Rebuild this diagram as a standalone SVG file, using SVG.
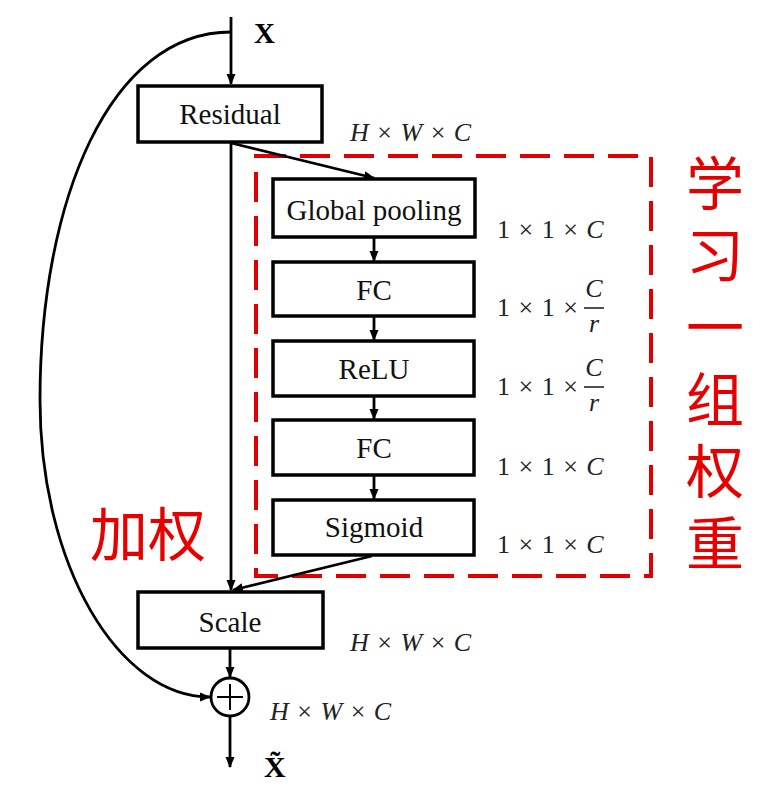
<svg xmlns="http://www.w3.org/2000/svg" width="772" height="791" viewBox="0 0 772 791">
<style>
.box{fill:#fff;stroke:#000;stroke-width:3.5}
.ln{fill:none;stroke:#000;stroke-width:2.8}
.bt{font-family:"Liberation Serif",serif;font-size:29px;text-anchor:middle;fill:#111}
.mt{font-family:"Liberation Serif",serif;font-size:26px;fill:#222;word-spacing:2px}
.it{font-style:italic}
.cn{font-family:"Noto Sans CJK SC",sans-serif;font-size:58px;fill:#e60000}
</style>
<defs>
<marker id="ah" markerWidth="11" markerHeight="10" refX="10" refY="5" orient="auto" markerUnits="userSpaceOnUse">
<path d="M0,0.5 L11,5 L0,9.5 Z" fill="#000"/>
</marker>
</defs>
<rect x="256" y="156" width="395" height="420" fill="none" stroke="#e00000" stroke-width="4" stroke-dasharray="30 14"/>
<g id="connectors">
<path class="ln" d="M231,17 V84" marker-end="url(#ah)"/>
<path class="ln" d="M231,143 V590" marker-end="url(#ah)"/>
<path class="ln" d="M231,143 L374,178" marker-end="url(#ah)"/>
<path class="ln" d="M374,238 V261" marker-end="url(#ah)"/>
<path class="ln" d="M374,317 V340" marker-end="url(#ah)"/>
<path class="ln" d="M374,396 V419" marker-end="url(#ah)"/>
<path class="ln" d="M374,476 V499" marker-end="url(#ah)"/>
<path class="ln" d="M372,556 L233,590" marker-end="url(#ah)"/>
<path class="ln" d="M230,648 V677" marker-end="url(#ah)"/>
<path class="ln" d="M230,716 V767" marker-end="url(#ah)"/>
<path class="ln" d="M231,32 C110,32 40,200 40,400 C40,565 118,697 210,697" marker-end="url(#ah)"/>
</g>
<g id="residual"><rect class="box" x="138" y="86" width="184" height="56"/><text class="bt" x="230" y="124">Residual</text></g>
<g id="global-pooling"><rect class="box" x="273" y="179" width="202" height="58"/><text class="bt" x="374" y="220">Global pooling</text></g>
<g id="fc1"><rect class="box" x="273" y="262" width="201" height="54"/><text class="bt" x="374" y="300">FC</text></g>
<g id="relu"><rect class="box" x="273" y="341" width="201" height="55"/><text class="bt" x="374" y="379">ReLU</text></g>
<g id="fc2"><rect class="box" x="273" y="420" width="201" height="55"/><text class="bt" x="374" y="458">FC</text></g>
<g id="sigmoid"><rect class="box" x="273" y="500" width="201" height="55"/><text class="bt" x="374" y="537">Sigmoid</text></g>
<g id="scale"><rect class="box" x="138" y="592" width="185" height="56"/><text class="bt" x="230" y="632">Scale</text></g>
<g id="sum"><circle cx="230" cy="697" r="19" fill="#fff" stroke="#000" stroke-width="2.8"/><path d="M217,697 H243 M230,684 V710" stroke="#000" stroke-width="2"/></g>
<text x="254" y="43" font-family="Liberation Serif,serif" font-size="29" font-weight="bold">X</text>
<text x="264" y="777" font-family="Liberation Serif,serif" font-size="30" font-weight="bold">X̃</text>
<text class="mt" x="350" y="141"><tspan class="it">H</tspan> × <tspan class="it">W</tspan> × <tspan class="it">C</tspan></text>
<text class="mt" x="350" y="651"><tspan class="it">H</tspan> × <tspan class="it">W</tspan> × <tspan class="it">C</tspan></text>
<text class="mt" x="270" y="720"><tspan class="it">H</tspan> × <tspan class="it">W</tspan> × <tspan class="it">C</tspan></text>
<text class="mt" x="497" y="238">1 × 1 × <tspan class="it">C</tspan></text>
<text class="mt" x="497" y="316">1 × 1 ×</text>
<text class="mt it" x="594" y="297" text-anchor="middle">C</text>
<line x1="584" y1="308" x2="604" y2="308" stroke="#222" stroke-width="1.6"/>
<text class="mt it" x="594" y="332" text-anchor="middle">r</text>
<text class="mt" x="497" y="395">1 × 1 ×</text>
<text class="mt it" x="594" y="376" text-anchor="middle">C</text>
<line x1="584" y1="387" x2="604" y2="387" stroke="#222" stroke-width="1.6"/>
<text class="mt it" x="594" y="411" text-anchor="middle">r</text>
<text class="mt" x="497" y="475">1 × 1 × <tspan class="it">C</tspan></text>
<text class="mt" x="497" y="553">1 × 1 × <tspan class="it">C</tspan></text>
<text class="cn" x="90" y="556">加权</text>
<text class="cn" x="715" y="154" writing-mode="vertical-rl" letter-spacing="14">学习一组权重</text>
</svg>
